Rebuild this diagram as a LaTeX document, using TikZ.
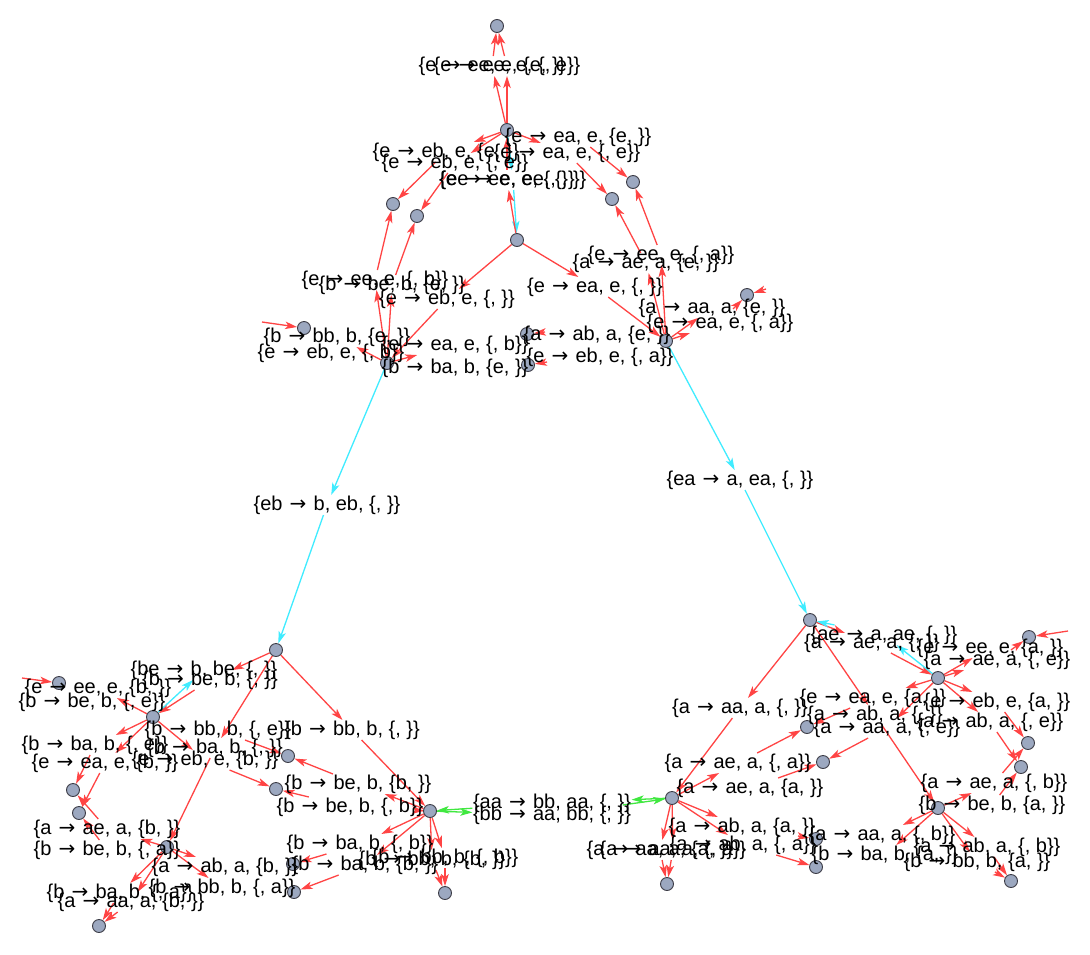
\documentclass[tikz,border=0pt]{standalone}
\usepackage{fontspec}
\usepackage{newunicodechar}
\setmainfont{Liberation Sans}
\newfontfamily\arrfont{DejaVu Sans}
\newunicodechar{→}{\makebox[1em][c]{\arrfont\symbol{"2192}}}
\usetikzlibrary{arrows.meta}
\pgfdeclarelayer{edges}
\pgfsetlayers{edges,main}
\definecolor{ered}{RGB}{255,68,68}
\definecolor{ecyan}{RGB}{64,236,255}
\definecolor{egreen}{RGB}{64,232,64}
\definecolor{sfill}{RGB}{156,168,192}
\definecolor{sborder}{RGB}{60,60,70}
\newcommand\lfont{\fontsize{20}{24}\selectfont}
\tikzset{
 st/.style={circle, draw=sborder, fill=sfill, line width=0.9pt, minimum size=13pt, inner sep=0pt},
 lb/.style={inner sep=0.5pt, font=\lfont, text=black},
 er/.style={draw=ered, line width=1.3pt, -{Stealth[length=12pt,width=7.5pt,inset=3pt]}},
 ec/.style={er, draw=ecyan},
 eg/.style={er, draw=egreen},
}
\begin{document}
\begin{tikzpicture}[x=1pt,y=-1pt]
\useasboundingbox (0,0) rectangle (1090,954);
\begin{pgfonlayer}{edges}
\fill[white] (0,0) rectangle (1090,954);
\end{pgfonlayer}
% states
\node[st] (s0) at (497,26) {};
\node[st] (s1) at (507,130) {};
\node[st] (s2) at (393,204) {};
\node[st] (s3) at (417,216) {};
\node[st] (s4) at (633,182) {};
\node[st] (s5) at (612,199) {};
\node[st] (s6) at (517,240) {};
\node[st] (s7) at (304,328) {};
\node[st] (s8) at (387,363) {};
\node[st] (s9) at (527,334) {};
\node[st] (s10) at (528,365) {};
\node[st] (s11) at (747,295) {};
\node[st] (s12) at (666,341) {};
\node[st] (s13) at (276,650) {};
\node[st] (s14) at (59,683) {};
\node[st] (s15) at (153,717) {};
\node[st] (s16) at (288,756) {};
\node[st] (s17) at (73,790) {};
\node[st] (s18) at (79,813) {};
\node[st] (s19) at (276,789) {};
\node[st] (s20) at (430,811) {};
\node[st] (s21) at (167,847) {};
\node[st] (s22) at (293,864) {};
\node[st] (s23) at (294,892) {};
\node[st] (s24) at (445,893) {};
\node[st] (s25) at (99,926) {};
\node[st] (r0) at (810,620) {};
\node[st] (r1) at (1029,637) {};
\node[st] (r2) at (938,678) {};
\node[st] (r3) at (807,727) {};
\node[st] (r4) at (1028,743) {};
\node[st] (r5) at (823,762) {};
\node[st] (r6) at (1021,767) {};
\node[st] (r7) at (672,798) {};
\node[st] (r8) at (938,808) {};
\node[st] (r9) at (816,839) {};
\node[st] (r10) at (816,867) {};
\node[st] (r11) at (667,884) {};
\node[st] (r12) at (1011,881) {};
% event labels
\node[lb] (L1a) at (492,66) {\{e → ee, e, \{e, \}\}};
\node[lb] (L1b) at (507,66) {\{e → ee, e, \{, e\}\}};
\node[lb] (L2a) at (578,137) {\{e → ea, e, \{e, \}\}};
\node[lb] (L2b) at (567,153) {\{e → ea, e, \{, e\}\}};
\node[lb] (L3a) at (446,152) {\{e → eb, e, \{e, \}\}};
\node[lb] (L3b) at (455,163) {\{e → eb, e, \{, e\}\}};
\node[lb] (L4a) at (513,180) {\{ee → e, ee, \{, \}\}};
\node[lb] (L4b) at (507,180) {\{e → ee, e, \{, \}\}};
\node[lb] (L5a) at (661,255) {\{e → ee, e, \{, a\}\}};
\node[lb] (L5b) at (646,263) {\{a → ae, a, \{e, \}\}};
\node[lb] (L6) at (595,287) {\{e → ea, e, \{, \}\}};
\node[lb] (L7) at (712,308) {\{a → aa, a, \{e, \}\}};
\node[lb] (L8) at (720,323) {\{e → ea, e, \{, a\}\}};
\node[lb] (L9) at (597,335) {\{a → ab, a, \{e, \}\}};
\node[lb] (L10) at (600,357) {\{e → eb, e, \{, a\}\}};
\node[lb] (L11a) at (375,280) {\{e → ee, e, \{, b\}\}};
\node[lb] (L11b) at (392,285) {\{b → be, b, \{e, \}\}};
\node[lb] (L12) at (447,299) {\{e → eb, e, \{, \}\}};
\node[lb] (L13) at (337,337) {\{b → bb, b, \{e, \}\}};
\node[lb] (L14) at (331,353) {\{e → eb, e, \{, b\}\}};
\node[lb] (L15) at (455,345) {\{e → ea, e, \{, b\}\}};
\node[lb] (L16) at (455,368) {\{b → ba, b, \{e, \}\}};
\node[lb] (L17) at (327,505) {\{eb → b, eb, \{, \}\}};
\node[lb] (L18) at (740,480) {\{ea → a, ea, \{, \}\}};
\node[lb] (L19a) at (204,670) {\{be → b, be, \{, \}\}};
\node[lb] (L19b) at (210,680) {\{b → be, b, \{, \}\}};
\node[lb] (L20) at (98,688) {\{e → ee, e, \{b, \}\}};
\node[lb] (L21) at (92,702) {\{b → be, b, \{, e\}\}};
\node[lb] (L22) at (218,730) {\{b → bb, b, \{, e\}\}};
\node[lb] (L23) at (95,745) {\{b → ba, b, \{, e\}\}};
\node[lb] (L24) at (215,748) {\{b → ba, b, \{, \}\}};
\node[lb] (L25) at (105,763) {\{e → ea, e, \{b, \}\}};
\node[lb] (L26) at (205,760) {\{e → eb, e, \{b, \}\}};
\node[lb] (L27) at (352,730) {\{b → bb, b, \{, \}\}};
\node[lb] (L28) at (358,784) {\{b → be, b, \{b, \}\}};
\node[lb] (L29) at (350,807) {\{b → be, b, \{, b\}\}};
\node[lb] (L30) at (360,844) {\{b → ba, b, \{, b\}\}};
\node[lb] (L31) at (365,865) {\{b → ba, b, \{b, \}\}};
\node[lb] (L32) at (432,860) {\{b → bb, b, \{b, \}\}};
\node[lb] (L33) at (445,858) {\{b → bb, b, \{, b\}\}};
\node[lb] (L34) at (107,829) {\{a → ae, a, \{b, \}\}};
\node[lb] (L35) at (107,850) {\{b → be, b, \{, a\}\}};
\node[lb] (L36) at (225,867) {\{a → ab, a, \{b, \}\}};
\node[lb] (L37) at (222,888) {\{b → bb, b, \{, a\}\}};
\node[lb] (L38) at (120,893) {\{b → ba, b, \{, a\}\}};
\node[lb] (L39) at (131,902) {\{a → aa, a, \{b, \}\}};
\node[lb] (L40) at (552,803) {\{aa → bb, aa, \{, \}\}};
\node[lb] (L41) at (552,815) {\{bb → aa, bb, \{, \}\}};
\node[lb] (L42) at (884,635) {\{ae → a, ae, \{, \}\}};
\node[lb] (L43) at (872,643) {\{a → ae, a, \{, \}\}};
\node[lb] (L44) at (990,648) {\{e → ee, e, \{a, \}\}};
\node[lb] (L45) at (997,660) {\{a → ae, a, \{, e\}\}};
\node[lb] (L46) at (873,698) {\{e → ea, e, \{a, \}\}};
\node[lb] (L47) at (875,715) {\{a → ab, a, \{, \}\}};
\node[lb] (L48) at (887,728) {\{a → aa, a, \{, e\}\}};
\node[lb] (L49) at (997,702) {\{e → eb, e, \{a, \}\}};
\node[lb] (L50) at (990,722) {\{a → ab, a, \{, e\}\}};
\node[lb] (L51) at (994,783) {\{a → ae, a, \{, b\}\}};
\node[lb] (L52) at (740,708) {\{a → aa, a, \{, \}\}};
\node[lb] (L53) at (738,763) {\{a → ae, a, \{, a\}\}};
\node[lb] (L54) at (750,788) {\{a → ae, a, \{a, \}\}};
\node[lb] (L56) at (992,805) {\{b → be, b, \{a, \}\}};
\node[lb] (L57) at (742,827) {\{a → ab, a, \{a, \}\}};
\node[lb] (L58) at (882,835) {\{a → aa, a, \{, b\}\}};
\node[lb] (L59a) at (660,850) {\{a → aa, a, \{a, \}\}};
\node[lb] (L59b) at (673,850) {\{a → aa, a, \{, a\}\}};
\node[lb] (L60) at (743,845) {\{a → ab, a, \{, a\}\}};
\node[lb] (L61) at (885,855) {\{b → ba, b, \{a, \}\}};
\node[lb] (L62) at (987,847) {\{a → ab, a, \{, b\}\}};
\node[lb] (L63) at (977,862) {\{b → bb, b, \{a, \}\}};
% free ends
\coordinate (c1) at (262,322);
\coordinate (c2) at (766,289);
\coordinate (c3) at (733,309);
\coordinate (c4) at (22,678);
\coordinate (c5) at (1068,631);
\coordinate (c6) at (545,332);
\coordinate (c7) at (547,362);
\coordinate (c8) at (798,836);
\begin{pgfonlayer}{edges}
% top
\draw[er] (s1) -- (L1a); \draw[er] (L1a) -- (s0);
\draw[er] (s1) -- (L1b); \draw[er] (L1b) -- (s0);
\draw[er] (L2a) -- (s4);
\draw[er] (s1) -- (L2b); \draw[er] (L2b) -- (s5);
\draw[er] (s1) -- (L3a); \draw[er] (L3a) -- (s2);
\draw[er] (s1) -- (L3b); \draw[er] (L3b) -- (s3);
\draw[ec] (s1) -- (L4a); \draw[ec] (L4a) -- (s6);
\draw[er] (s6) -- (L4b); \draw[er] (L4b) -- (s1);
\draw[er] (s6) -- (L12); \draw[er] (L12) -- (s8);
\draw[er] (s6) -- (L6); \draw[er] (L6) -- (s12);
\draw[er] (s8) -- (L11a); \draw[er] (L11a) -- (s2);
\draw[er] (s8) -- (L11b); \draw[er] (L11b) -- (s3);
\draw[er] (s8) -- (L13);
\draw[er] (s8) -- (L15);
\draw[er] (s12) -- (L5a); \draw[er] (L5a) -- (s4);
\draw[er] (s12) -- (L5b); \draw[er] (L5b) -- (s5);
\draw[er] (s12) -- (L7);
\draw[er] (s12) -- (L8);
\draw[ec] (s8) -- (L17); \draw[ec] (L17) -- (s13);
\draw[ec] (s12) -- (L18); \draw[ec] (L18) -- (r0);
\draw[er] (c1) -- (s7);
\draw[er] (c2) -- (s11);
\draw[er] (c3) -- (s11);
\draw[er] (c6) -- (s9);
\draw[er] (c7) -- (s10);
% lower left
\draw[er] (s13) -- (L19b); \draw[er] (L19b) -- (s15);
\draw[ec] (s15) -- (L19a);
\draw[er] (s13) -- (L24); \draw[er] (L24) -- (s21);
\draw[er] (s13) -- (L27); \draw[er] (L27) -- (s20);
\draw[er] (s15) -- (L20); \draw[er] (c4) -- (s14);
\draw[er] (s15) -- (L23); \draw[er] (L23) -- (s17);
\draw[er] (s15) -- (L25); \draw[er] (L25) -- (s18);
\draw[er] (L22) -- (s16);
\draw[er] (s15) -- (L26); \draw[er] (L26) -- (s19);
\draw[er] (s20) -- (L28); \draw[er] (L28) -- (s16);
\draw[er] (s20) -- (L29); \draw[er] (L29) -- (s19);
\draw[er] (s20) -- (L30); \draw[er] (L30) -- (s22);
\draw[er] (s20) -- (L31); \draw[er] (L31) -- (s23);
\draw[er] (s20) -- (L32); \draw[er] (L32) -- (s24);
\draw[er] (s20) -- (L33); \draw[er] (L33) -- (s24);
\draw[er] (s21) -- (L34); \draw[er] (L34) -- (s17);
\draw[er] (L35) -- (s18);
\draw[er] (s21) -- (L36);
\draw[er] (s21) -- (L37);
\draw[er] (s21) -- (L38); \draw[er] (L38) -- (s25);
\draw[er] (s21) -- (L39); \draw[er] (L39) -- (s25);
\draw[eg] (L40) -- (s20); \draw[eg] (s20) -- (L41);
\draw[eg] (L41) -- (r7); \draw[eg] (r7) -- (L40);
% lower right
\draw[er] (r0) -- (L43); \draw[er] (L43) -- (r2);
\draw[ec] (r2) -- (L42); \draw[ec] (L42) -- (r0);
\draw[er] (r0) -- (L52); \draw[er] (L52) -- (r7);
\draw[er] (r0) -- (L47); \draw[er] (L47) -- (r8);
\draw[er] (r2) -- (L44);
\draw[er] (r2) -- (L45); \draw[er] (L45) -- (r1);
\draw[er] (c5) -- (r1);
\draw[er] (r2) -- (L46); \draw[er] (L46) -- (r3);
\draw[er] (r2) -- (L48); \draw[er] (L48) -- (r5);
\draw[er] (r2) -- (L49); \draw[er] (L49) -- (r4);
\draw[er] (r2) -- (L50); \draw[er] (L50) -- (r6);
\draw[er] (r8) -- (L51); \draw[er] (L51) -- (r4);
\draw[er] (L56) -- (r6);
\draw[er] (r8) -- (L58);
\draw[er] (r8) -- (L61);
\draw[er] (r8) -- (L62); \draw[er] (L62) -- (r12);
\draw[er] (r8) -- (L63); \draw[er] (L63) -- (r12);
\draw[er] (r7) -- (L53); \draw[er] (L53) -- (r3);
\draw[er] (L54) -- (r5);
\draw[er] (r7) -- (L57);
\draw[er] (r7) -- (L60); \draw[er] (L60) -- (r10);
\draw[er] (r7) -- (L59a); \draw[er] (L59a) -- (r11);
\draw[er] (r7) -- (L59b); \draw[er] (L59b) -- (r11);
\draw[er] (c8) -- (r9);
\end{pgfonlayer}
\end{tikzpicture}
\end{document}
